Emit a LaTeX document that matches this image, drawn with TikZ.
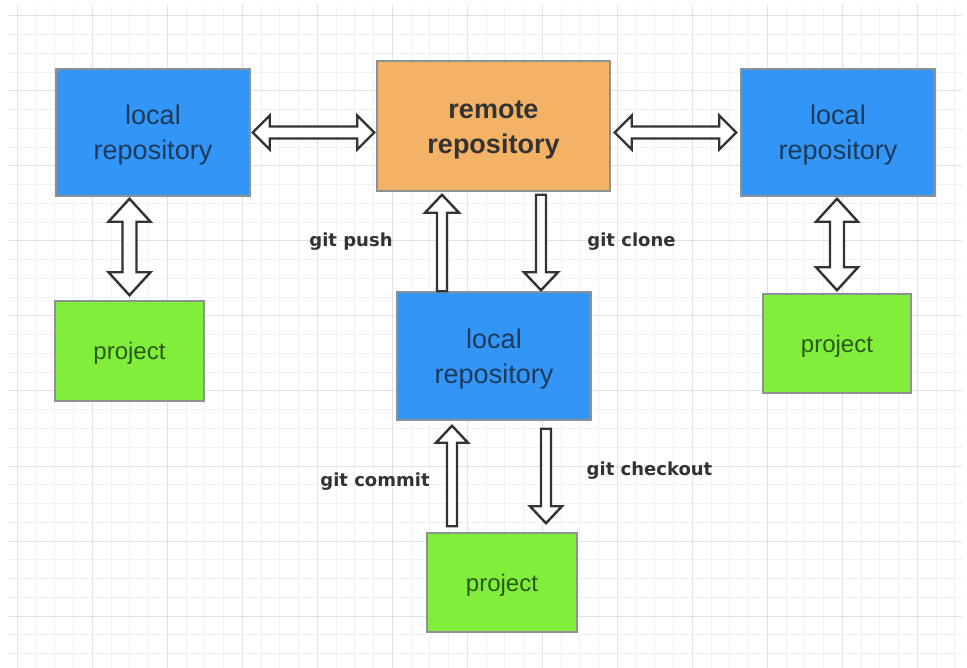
\documentclass[tikz,border=0pt]{standalone}
\usepackage{fontspec}
\setmainfont{Liberation Sans}
\newfontfamily\lblfont{DejaVu Sans}
\usetikzlibrary{calc}
\definecolor{boxblue}{HTML}{3396F6}
\definecolor{boxorange}{HTML}{F3B266}
\definecolor{boxgreen}{HTML}{80EE3B}
\definecolor{gridminor}{HTML}{F1F1F1}
\definecolor{gridmajor}{HTML}{E2E2E2}
\definecolor{bluetext}{HTML}{1B3A5C}
\definecolor{greentext}{HTML}{2B5A18}
\definecolor{darktext}{HTML}{333333}
\definecolor{arrowgrey}{HTML}{333333}
\definecolor{boxedge}{HTML}{8C9196}
\newcommand\lowtext[1]{\raisebox{-3pt}[\height][\depth]{\begin{tabular}{@{}c@{}}#1\end{tabular}}}
\newcommand\dblharrow[5]{%
  \coordinate (tmpa) at ($(#1)!#5!(#2)$);
  \coordinate (tmpb) at ($(#2)!#5!(#1)$);
  \draw[harrow] (#1) -- ($(tmpa)!#4!90:(#2)$) -- ($(tmpa)!#3!90:(#2)$)
    -- ($(tmpb)!#3!-90:(#1)$) -- ($(tmpb)!#4!-90:(#1)$) -- (#2)
    -- ($(tmpb)!#4!90:(#1)$) -- ($(tmpb)!#3!90:(#1)$)
    -- ($(tmpa)!#3!-90:(#2)$) -- ($(tmpa)!#4!-90:(#2)$) -- cycle;}
\newcommand\sglharrow[5]{%
  \coordinate (tmpb) at ($(#2)!#5!(#1)$);
  \draw[harrow] ($(#1)!#3!90:(#2)$) -- ($(tmpb)!#3!-90:(#1)$)
    -- ($(tmpb)!#4!-90:(#1)$) -- (#2) -- ($(tmpb)!#4!90:(#1)$)
    -- ($(tmpb)!#3!90:(#1)$) -- ($(#1)!#3!-90:(#2)$) -- cycle;}
\tikzset{
  box/.style={rectangle, draw=boxedge, line width=1.5pt, inner sep=0pt, anchor=center},
  localbox/.style={box, fill=boxblue, minimum width=194pt, minimum height=127pt, text=bluetext, font=\fontsize{27}{35}\selectfont},
  remotebox/.style={box, fill=boxorange, minimum width=233pt, minimum height=130pt, text=darktext, font=\fontsize{27}{35}\selectfont\bfseries},
  projbox/.style={box, fill=boxgreen, minimum width=149pt, minimum height=100pt, text=greentext, font=\fontsize{24}{30}\selectfont},
  cmdlabel/.style={text=darktext, inner sep=0pt, font=\lblfont\bfseries\fontsize{18}{22}\selectfont},
  harrow/.style={draw=arrowgrey, line width=2.4pt, fill=white, line join=miter},
  minorgrid/.style={draw=gridminor, line width=0.8pt},
  majorgrid/.style={draw=gridmajor, line width=1pt}
}
\begin{document}
\begin{tikzpicture}[x=1pt, y=-1pt]
\useasboundingbox (0,0) rectangle (967,668);
\fill[white] (0,0) rectangle (967,668);
\begin{scope}
  \clip (8,5) rectangle (962,668);
  \foreach \i in {0,...,50}{
    \pgfmathtruncatemacro\m{mod(\i,4)}
    \ifnum\m=0 \draw[majorgrid] (17.3+18.75*\i,5) -- ++(0,663);
    \else \draw[minorgrid] (17.3+18.75*\i,5) -- ++(0,663); \fi
  }
  \foreach \j in {0,...,34}{
    \pgfmathtruncatemacro\m{mod(\j,4)}
    \ifnum\m=0 \draw[majorgrid] (8,16+18.75*\j) -- ++(954,0);
    \else \draw[minorgrid] (8,16+18.75*\j) -- ++(954,0); \fi
  }
\end{scope}

\node[localbox] (L1) at (153,132.5) {\lowtext{local\\repository}};
\node[remotebox] (R) at (493.5,126) {\lowtext{remote\\repository}};
\node[localbox] (L3) at (838,132.5) {\lowtext{local\\repository}};
\node[localbox, minimum height=128pt] (L2) at (494,356) {\lowtext{local\\repository}};
\node[projbox] (P1) at (129.5,351) {\lowtext{project}};
\node[projbox, minimum width=148pt, minimum height=99pt] (P3) at (837,343.5) {\lowtext{project}};
\node[projbox, minimum width=150pt, minimum height=99pt] (P2) at (502,582.5) {\lowtext{project}};

\coordinate (a1s) at ($(L1.east)+(2,0)$);
\coordinate (a1e) at ($(L1.east -| R.west)+(-2,0)$);
\coordinate (a2s) at ($(R.east |- L3.west)+(4,0)$);
\coordinate (a2e) at ($(L3.west)+(-4,0)$);
\coordinate (a3s) at ($(L1.south -| P1.north)+(0,2)$);
\coordinate (a3e) at ($(P1.north)+(0,-5)$);
\coordinate (a4s) at ($(L3.south -| P3.north)+(0,2)$);
\coordinate (a4e) at ($(P3.north)+(0,-3)$);
\coordinate (pt) at ($(L2.north)+(-52,0)$);
\coordinate (ph) at ($(pt |- R.south)+(0,3)$);
\coordinate (ct) at ($(R.south)+(47.5,3)$);
\coordinate (ch) at ($(ct |- L2.north)+(0,-1)$);
\coordinate (mt) at ($(P2.north)+(-50,-6)$);
\coordinate (mh) at ($(mt |- L2.south)+(0,5)$);
\coordinate (kt) at ($(L2.south)+(52,8)$);
\coordinate (kh) at ($(kt |- P2.north)+(0,-9)$);

\dblharrow{a1s}{a1e}{6pt}{17pt}{17pt}
\dblharrow{a2s}{a2e}{6pt}{17pt}{17pt}
\dblharrow{a3s}{a3e}{7pt}{21pt}{23pt}
\dblharrow{a4s}{a4e}{7pt}{21pt}{23pt}
\sglharrow{pt}{ph}{5pt}{17pt}{18pt}
\sglharrow{ct}{ch}{5pt}{17pt}{18pt}
\sglharrow{mt}{mh}{5pt}{16pt}{17pt}
\sglharrow{kt}{kh}{5pt}{16pt}{17pt}

\node[cmdlabel] (lpush) at (351,242) {git push};
\node[cmdlabel] (lclone) at (631.5,242) {git clone};
\node[cmdlabel] (lcommit) at (375,482) {git commit};
\node[cmdlabel] (lcheckout) at (649.5,471) {git checkout};
\end{tikzpicture}
\end{document}
